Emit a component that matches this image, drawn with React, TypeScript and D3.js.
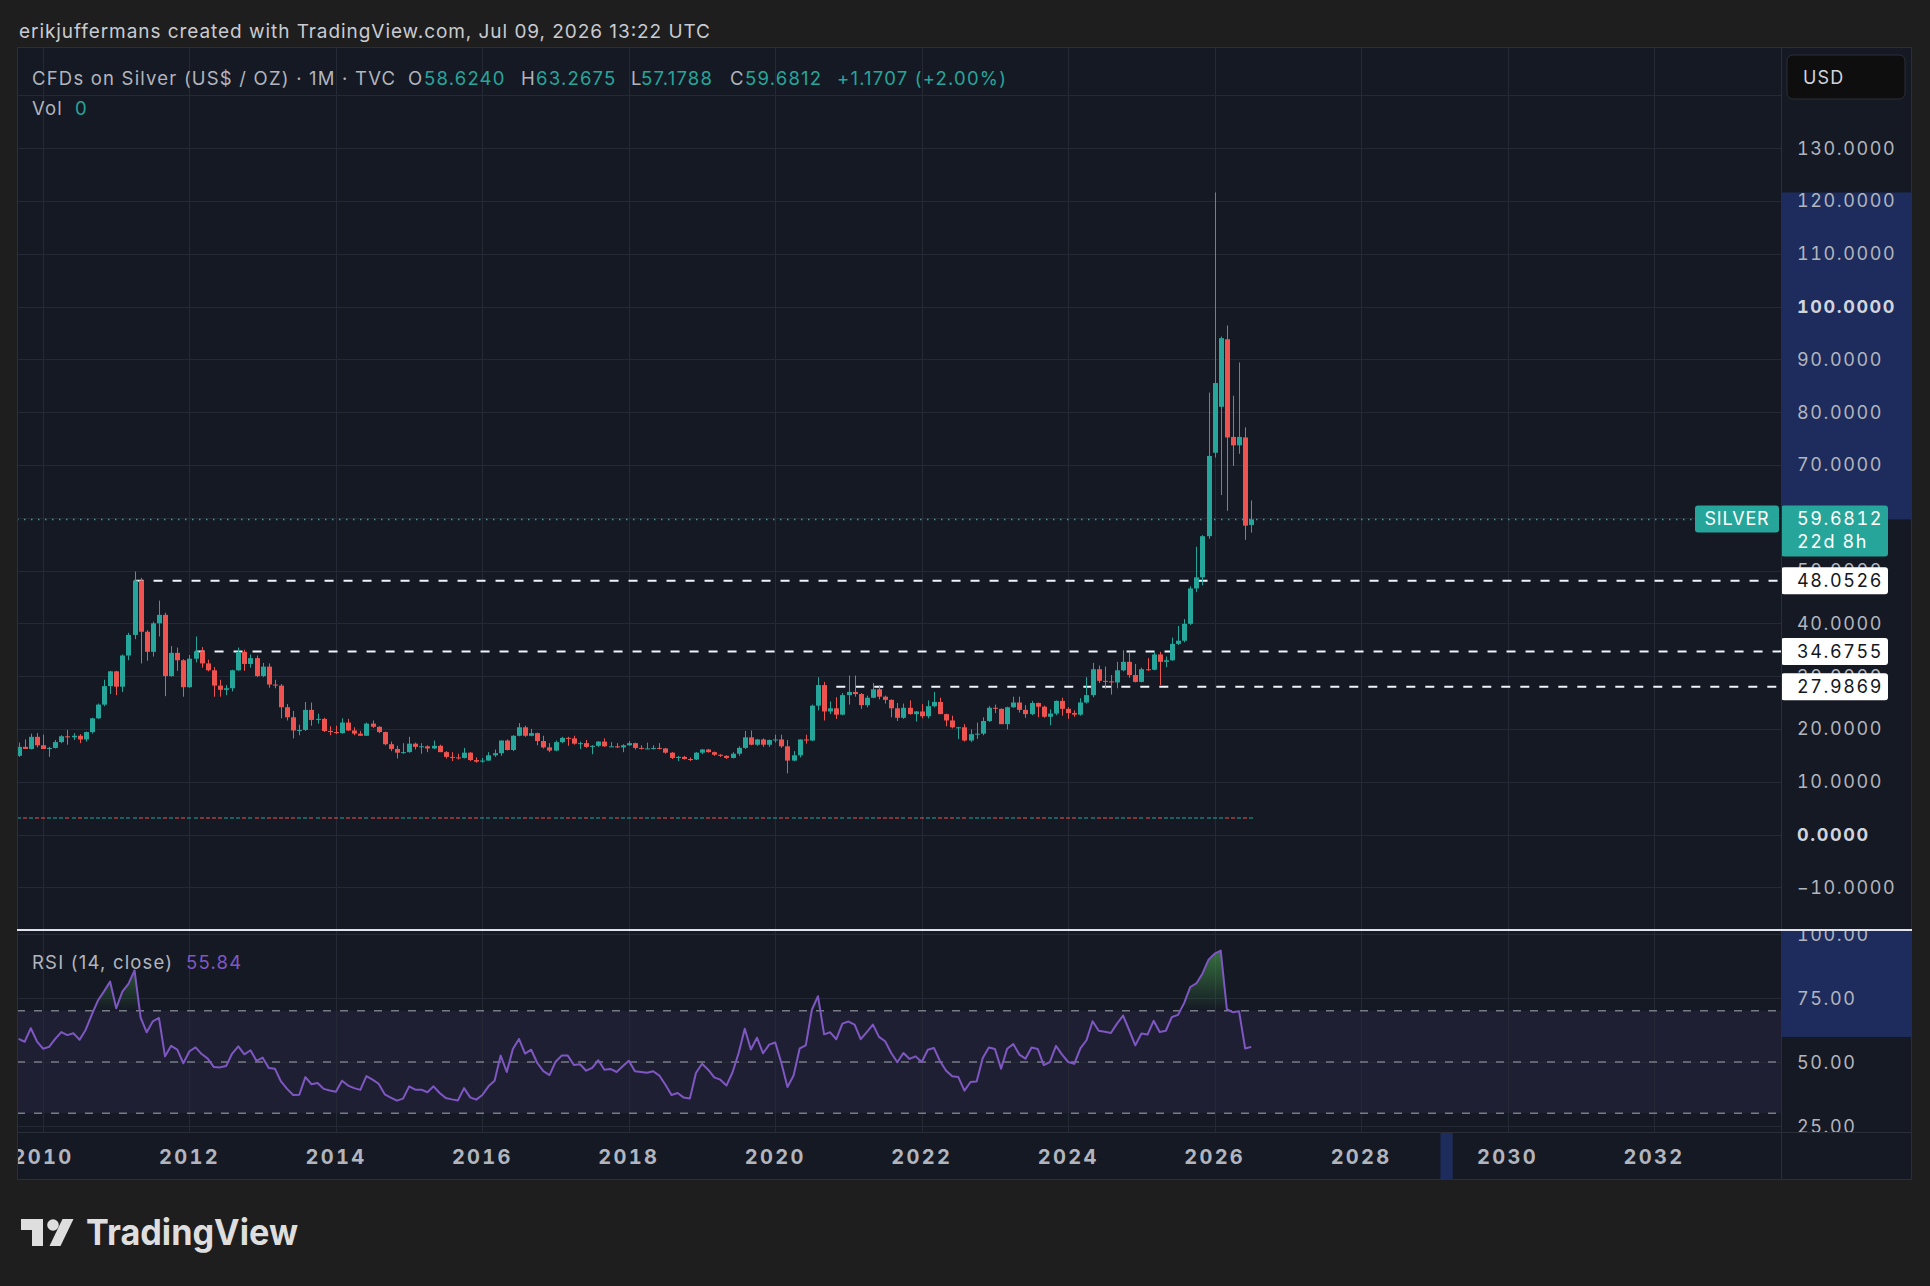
import React from "react";
import * as d3 from "d3";

// ---------------- DATA ----------------
const FIRST_MONTH = "2009-09";

const OPEN: number[] = [
  14.9, 16.6, 16.2, 18.5,
  16.9, 16.2, 16.4, 17.5, 18.6, 18.4, 18.7, 18.0, 19.4, 22.0, 24.6, 28.1,
  30.9, 28.0, 33.9, 37.8, 48.1, 38.4, 34.6, 40.0, 41.6, 30.0, 34.4, 33.0,
  27.9, 33.3, 34.7, 32.4, 31.1, 28.2, 27.4, 27.7, 31.1, 34.6, 32.3, 33.4,
  30.0, 31.8, 28.4, 28.2, 24.1, 22.2, 19.7, 19.8, 23.6, 21.7, 21.9, 19.6,
  19.4, 19.2, 21.2, 19.7, 19.1, 18.7, 21.0, 20.4, 19.4, 17.1, 16.2, 15.5,
  15.6, 17.2, 16.6, 16.7, 16.3, 16.8, 15.6, 14.7, 14.6, 14.5, 15.5, 14.1,
  13.8, 14.0, 15.0, 15.4, 17.8, 16.0, 18.7, 20.3, 18.7, 19.2, 17.7, 16.5,
  15.9, 17.5, 18.3, 18.2, 17.2, 17.3, 16.6, 16.8, 17.6, 16.7, 16.7, 16.5,
  16.9, 17.3, 16.4, 16.3, 16.3, 16.4, 16.3, 15.5, 14.5, 14.7, 14.3, 14.2,
  15.5, 16.1, 15.6, 15.1, 14.9, 14.5, 15.3, 16.4, 18.4, 17.0, 18.0, 17.0,
  17.9, 18.0, 16.7, 14.0, 15.0, 18.0, 17.8, 24.4, 28.3, 23.3, 23.9, 22.7,
  26.4, 27.0, 26.6, 24.5, 25.9, 27.5, 26.1, 25.5, 23.9, 22.1, 24.0, 22.8,
  23.3, 22.4, 24.3, 25.1, 22.8, 21.6, 20.3, 20.3, 17.8, 19.0, 19.1, 21.5,
  24.0, 23.8, 20.9, 24.1, 25.0, 23.6, 22.8, 24.9, 24.2, 22.3, 22.9, 25.3,
  23.8, 23.0, 22.7, 25.0, 26.4, 31.3, 29.1, 29.0, 28.8, 31.1, 32.7, 30.2,
  28.9, 31.3, 31.2, 34.1, 32.7, 33.0, 36.1, 36.7, 39.9, 46.6, 48.7, 56.5,
  72.3, 81.0, 93.8, 75.3, 73.7, 75.2, 58.624,
];

const HIGH: number[] = [
  17.4, 18.0, 19.1, 19.2,
  18.9, 16.6, 17.9, 18.8, 19.8, 19.2, 19.0, 19.5, 22.1, 24.8, 29.3, 31.0,
  31.0, 34.1, 38.2, 49.8, 48.6, 38.7, 40.3, 44.3, 42.0, 35.7, 35.4, 33.2,
  34.0, 37.5, 35.5, 33.1, 31.7, 29.3, 28.3, 31.2, 35.4, 35.0, 34.1, 33.9,
  32.5, 32.4, 29.3, 28.5, 24.7, 23.4, 20.8, 25.1, 25.0, 22.9, 22.1, 20.5,
  20.6, 22.0, 21.9, 20.3, 19.6, 21.2, 21.6, 20.5, 19.5, 17.6, 16.8, 17.3,
  18.5, 17.4, 17.3, 16.9, 17.8, 17.0, 15.8, 15.6, 15.3, 16.4, 15.6, 14.6,
  14.5, 15.6, 16.1, 17.8, 18.0, 18.8, 21.1, 20.6, 20.0, 19.3, 18.7, 17.3,
  17.8, 18.5, 18.5, 18.7, 17.6, 17.9, 16.9, 17.7, 18.2, 17.5, 17.3, 17.1,
  17.7, 17.4, 16.9, 17.4, 16.9, 17.3, 16.4, 15.6, 14.9, 14.9, 14.6, 15.6,
  16.2, 16.2, 15.7, 15.2, 15.0, 15.6, 16.7, 19.6, 19.7, 18.1, 18.2, 18.0,
  18.9, 18.9, 17.9, 15.8, 18.0, 18.9, 24.6, 29.8, 28.9, 25.2, 26.0, 26.8,
  30.1, 30.1, 26.8, 26.3, 28.7, 28.3, 26.3, 25.6, 24.9, 24.8, 25.4, 23.4,
  24.7, 25.4, 27.0, 25.9, 22.9, 22.5, 20.4, 20.9, 19.9, 21.2, 22.2, 24.3,
  24.6, 23.9, 24.2, 26.1, 26.1, 24.5, 25.3, 25.0, 24.4, 23.7, 25.4, 25.9,
  24.1, 23.5, 25.8, 29.8, 32.5, 32.0, 31.8, 30.2, 32.7, 34.9, 34.6, 32.3,
  31.6, 33.4, 34.6, 34.6, 33.7, 37.3, 39.5, 40.8, 47.0, 54.5, 56.7, 83.7,
  121.6, 94.3, 96.4, 83.1, 89.4, 77.1, 63.2675,
];

const LOW: number[] = [
  14.7, 16.2, 16.1, 16.5,
  16.2, 14.7, 16.3, 17.3, 17.0, 17.9, 17.3, 17.6, 19.1, 21.9, 24.3, 26.6,
  26.4, 27.0, 33.0, 37.0, 32.4, 32.9, 33.7, 37.5, 26.2, 29.9, 31.0, 26.1,
  27.8, 32.6, 31.6, 30.9, 26.1, 26.1, 26.4, 27.1, 31.0, 31.0, 31.6, 29.8,
  29.8, 27.8, 27.7, 22.0, 21.6, 18.2, 18.8, 19.6, 20.6, 21.0, 19.4, 18.8,
  19.0, 19.1, 19.6, 18.8, 18.7, 18.7, 20.2, 19.2, 16.9, 15.8, 14.4, 15.3,
  15.5, 16.1, 15.3, 15.6, 16.2, 15.6, 14.4, 13.9, 14.2, 14.4, 13.9, 13.6,
  13.6, 14.0, 14.7, 14.9, 15.9, 15.8, 18.6, 18.5, 18.6, 16.9, 16.3, 15.6,
  15.8, 17.3, 16.8, 17.0, 16.2, 16.4, 15.2, 16.6, 16.6, 16.6, 16.4, 15.6,
  16.8, 16.1, 16.1, 16.2, 16.1, 16.1, 15.3, 14.3, 13.9, 14.2, 13.9, 14.1,
  15.2, 15.5, 14.9, 14.7, 14.3, 14.4, 14.9, 16.2, 16.9, 16.8, 16.6, 16.6,
  17.4, 16.4, 11.6, 13.9, 14.6, 17.2, 17.7, 23.5, 21.6, 22.8, 21.9, 22.6,
  24.6, 26.1, 23.8, 24.1, 25.8, 25.6, 24.8, 22.2, 21.5, 21.9, 22.7, 21.4,
  22.0, 22.0, 24.1, 22.8, 20.5, 20.1, 18.1, 17.6, 17.5, 18.1, 18.8, 21.3,
  23.0, 20.9, 19.9, 24.0, 23.1, 22.1, 22.6, 22.2, 22.1, 20.7, 22.6, 22.5,
  21.9, 22.3, 22.5, 24.8, 26.0, 28.7, 27.6, 26.5, 27.7, 30.9, 29.7, 28.8,
  28.8, 31.0, 31.1, 28.3, 31.7, 32.9, 35.9, 36.4, 39.7, 45.9, 47.2, 56.0,
  71.4, 64.3, 61.3, 69.8, 72.1, 55.8, 57.1788,
];

const CLOSE: number[] = [
  16.6, 16.2, 18.5, 16.9,
  16.2, 16.4, 17.5, 18.6, 18.4, 18.7, 18.0, 19.4, 22.0, 24.6, 28.1, 30.9,
  28.0, 33.9, 37.8, 48.1, 38.4, 34.6, 40.0, 41.6, 30.0, 34.4, 33.0, 27.9,
  33.3, 34.7, 32.4, 31.1, 28.2, 27.4, 27.7, 31.1, 34.6, 32.3, 33.4, 30.0,
  31.8, 28.4, 28.2, 24.1, 22.2, 19.7, 19.8, 23.6, 21.7, 21.9, 19.6, 19.4,
  19.2, 21.2, 19.7, 19.1, 18.7, 21.0, 20.4, 19.4, 17.1, 16.2, 15.5, 15.6,
  17.2, 16.6, 16.7, 16.3, 16.8, 15.6, 14.7, 14.6, 14.5, 15.5, 14.1, 13.8,
  14.0, 15.0, 15.4, 17.8, 16.0, 18.7, 20.3, 18.7, 19.2, 17.7, 16.5, 15.9,
  17.5, 18.3, 18.2, 17.2, 17.3, 16.6, 16.8, 17.6, 16.7, 16.7, 16.5, 16.9,
  17.3, 16.4, 16.3, 16.3, 16.4, 16.3, 15.5, 14.5, 14.7, 14.3, 14.2, 15.5,
  16.1, 15.6, 15.1, 14.9, 14.5, 15.3, 16.4, 18.4, 17.0, 18.0, 17.0, 17.9,
  18.0, 16.7, 14.0, 15.0, 18.0, 17.8, 24.4, 28.3, 23.3, 23.9, 22.7, 26.4,
  27.0, 26.6, 24.5, 25.9, 27.5, 26.1, 25.5, 23.9, 22.1, 24.0, 22.8, 23.3,
  22.4, 24.3, 25.1, 22.8, 21.6, 20.3, 20.3, 17.8, 19.0, 19.1, 21.5, 24.0,
  23.8, 20.9, 24.1, 25.0, 23.6, 22.8, 24.9, 24.2, 22.3, 22.9, 25.3, 23.8,
  23.0, 22.7, 25.0, 26.4, 31.3, 29.1, 29.0, 28.8, 31.1, 32.7, 30.2, 28.9,
  31.3, 31.2, 34.1, 32.7, 33.0, 36.1, 36.7, 39.9, 46.6, 48.7, 56.5, 71.7,
  85.5, 94.0, 75.2, 73.7, 75.3, 58.5, 59.6812,
];

const RSI: number[] = [
  59.0, 57.9, 63.2, 58.1, 55.2, 55.9, 59.0, 61.7, 60.5, 61.2,
  58.7, 62.6, 68.5, 74.0, 77.6, 81.4, 71.0, 77.5, 80.5, 85.8,
  67.3, 61.6, 65.9, 67.2, 52.2, 56.3, 54.8, 49.5, 54.2, 55.7,
  53.1, 51.3, 48.0, 47.9, 48.4, 53.3, 56.1, 53.0, 54.6, 50.4,
  51.7, 47.7, 47.4, 42.4, 39.5, 37.1, 37.2, 44.1, 41.3, 41.8,
  39.5, 38.9, 38.4, 42.7, 40.8, 39.8, 39.1, 44.5, 43.1, 41.5,
  37.4, 36.1, 34.9, 35.7, 40.5, 39.2, 39.2, 38.2,
  40.5, 37.9, 35.9, 35.4, 35.0, 39.8, 36.2, 35.3, 37.1, 40.5,
  42.7, 52.5, 46.1, 55.1, 59.0, 53.3, 54.8, 49.6, 46.4, 44.9,
  50.1, 52.5, 52.5, 48.8, 49.1, 46.6, 47.7, 50.7, 47.0, 47.3,
  46.1, 48.3, 50.5, 46.4, 46.1, 45.8, 46.4, 44.7, 41.1, 37.1,
  37.9, 36.1, 35.7, 45.7, 49.3, 47.0, 44.0, 43.1, 40.8, 46.0,
  53.5, 63.0, 54.9, 59.5, 53.4, 56.8, 57.6, 49.6, 40.2, 44.7,
  55.3, 56.5, 70.4, 75.7, 60.8, 61.6, 58.9,
  65.0, 65.8, 64.6, 58.9, 61.7, 64.6, 59.8, 58.1, 53.5, 49.9,
  53.5, 51.2, 52.2, 50.0, 54.8, 55.5, 50.3, 46.6, 44.4, 44.1,
  38.8, 42.2, 42.4, 51.6, 55.7, 55.1, 47.4, 55.2, 57.0, 52.9,
  51.3, 55.7, 55.1, 48.8, 50.0, 56.3, 52.9, 50.0, 49.3, 55.3,
  58.5, 65.9, 62.2, 61.8, 61.3, 65.0, 68.1, 62.4, 56.5, 61.1,
  60.7, 66.1, 61.7, 62.2, 67.6, 68.4, 73.0, 79.3, 80.7, 84.5,
  90.0, 92.3, 93.5, 70.7, 69.4, 69.8, 55.3, 55.9,
];

const VOLUME: number[] = OPEN.map(() => 0); // legend reads "Vol 0"

const YEAR_TICKS = [2010, 2012, 2014, 2016, 2018, 2020, 2022, 2024, 2026, 2028, 2030, 2032];
const PRICE_TICKS = [-10, 0, 10, 20, 30, 40, 50, 60, 70, 80, 90, 100, 110, 120, 130, 140];
const BOLD_PRICE_TICKS = [0, 100];
const RSI_TICKS = [25, 50, 75, 100];
const RSI_BANDS = [70, 50, 30];
const LEVEL_VALUES = [48.0526, 34.6755, 27.9869];
const LEVEL_STARTS = ["2011-04", "2012-02", "2020-11"];

const HEADER = "erikjuffermans created with TradingView.com, Jul 09, 2026 13:22 UTC";
const SYMBOL_TITLE = "CFDs on Silver (US$ / OZ) · 1M · TVC";
const OHLC_LABELS = ["O", "H", "L", "C"];
const OHLC_VALUES = ["58.6240", "63.2675", "57.1788", "59.6812"];
const CHANGE_TEXT = "+1.1707 (+2.00%)";
const SYMBOL_TAG = "SILVER";
const COUNTDOWN = "22d 8h";
const RSI_TITLE = "RSI (14, close)";
const RSI_LAST = 55.84;
const RSI_HIGHLIGHT_LOW = 59.8;
const TIME_HIGHLIGHT = ["2029-02", "2029-04"];

// ---------------- LAYOUT ----------------
const W = 1930;
const H = 1286;
const PANE_L = 17;
const PANE_R = 1781;
const AXIS_R = 1912;
const MAIN_T = 47;
const MAIN_B = 929;
const SEP_Y = 930;
const RSI_T = 931;
const RSI_B = 1132;
const TIME_B = 1180;
const VOL_BASE = 818;

const UP = "#26a69a";
const DOWN = "#ef5350";
const BG = "#1e1e1e";
const PANE_BG = "#151924";
const GRID = "#252935";
const BORDER = "#2a2e39";
const TEXT = "#b2b5be";
const HILITE = "#1d2c5c";
const RSI_COLOR = "#7e57c2";
const FONT = "Inter, 'Noto Sans', sans-serif";
const AXIS_LS = 1.6;
const LEGEND_LS = 1.2;
const TNUM = { fontVariantNumeric: "tabular-nums" } as React.CSSProperties;

const monthIndex = (s: string) => {
  const [y, m] = s.split("-").map(Number);
  return (y - 2010) * 12 + (m - 1);
};

const x = d3.scaleLinear().domain([0, 264]).range([43, 1654]);
const y = d3.scaleLinear().domain([0, 100]).range([834.5, 306.5]);
const yr = d3.scaleLinear().domain([25, 100]).range([1126, 934]);
const yv = d3.scaleLinear().domain([0, 1]).range([VOL_BASE, 700]);

const START = monthIndex(FIRST_MONTH);
const fmtPrice = d3.format(".4f");
const fmtRsi = d3.format(".2f");

export default function App() {
  const mx = (k: number) => Math.round(x(START + k));
  const lastClose = CLOSE[CLOSE.length - 1];
  const maxHigh = d3.max(HIGH) as number;
  const yClose = y(lastClose);

  const rsiLine = d3
    .line<number>()
    .x((_, k) => x(START + k))
    .y((v) => yr(v))(RSI) as string;
  const rsiArea = d3
    .area<number>()
    .x((_, k) => x(START + k))
    .y0(yr(70))
    .y1((v) => yr(v))(RSI) as string;

  const legendY = 78;
  const ohlcX = [408, 521, 631, 730];
  const ohlcValX = [424, 536, 641, 745];

  // tick labels fully covered by the current-price label are not drawn
  const visiblePriceTicks = PRICE_TICKS.filter(
    (t) => t < 140 && !(y(t) > yClose - 10 && y(t) < yClose + 33)
  );

  return (
    <svg
      width={W}
      height={H}
      style={{ position: "absolute", left: 0, top: 0, fontFamily: FONT }}
    >
      <defs>
        <clipPath id="mainClip">
          <rect x={PANE_L} y={MAIN_T} width={PANE_R - PANE_L} height={MAIN_B - MAIN_T} />
        </clipPath>
        <clipPath id="rsiClip">
          <rect x={PANE_L} y={RSI_T} width={PANE_R - PANE_L} height={RSI_B - RSI_T} />
        </clipPath>
        <clipPath id="rsiAboveClip">
          <rect x={PANE_L} y={RSI_T} width={PANE_R - PANE_L} height={yr(70) - RSI_T} />
        </clipPath>
        <clipPath id="rsiAxisClip">
          <rect x={PANE_R} y={RSI_T} width={AXIS_R - PANE_R} height={RSI_B - RSI_T} />
        </clipPath>
        <clipPath id="timeClip">
          <rect x={PANE_L} y={RSI_B} width={PANE_R - PANE_L} height={TIME_B - RSI_B} />
        </clipPath>
        <linearGradient id="obGrad" gradientUnits="userSpaceOnUse" x1={0} y1={yr(100)} x2={0} y2={yr(70)}>
          <stop offset="0%" stopColor="#4caf50" stopOpacity={0.75} />
          <stop offset="100%" stopColor="#4caf50" stopOpacity={0} />
        </linearGradient>
      </defs>

      {/* frame */}
      <rect x={0} y={0} width={W} height={H} fill={BG} />
      <text x={19} y={37.5} fontSize={19} fill="#c9cbd1" textLength={691} lengthAdjust="spacing">
        {HEADER}
      </text>

      <rect x={PANE_L} y={MAIN_T} width={AXIS_R - PANE_L} height={TIME_B - MAIN_T} fill={PANE_BG} />

      {/* ---------- MAIN PANE ---------- */}
      <g clipPath="url(#mainClip)">
        {PRICE_TICKS.map((t) => (
          <line key={t} x1={PANE_L} x2={PANE_R} y1={Math.round(y(t)) + 0.5} y2={Math.round(y(t)) + 0.5} stroke={GRID} />
        ))}
        {YEAR_TICKS.map((t) => {
          const gx = Math.round(x(monthIndex(`${t}-01`))) + 0.5;
          return <line key={t} x1={gx} x2={gx} y1={MAIN_T} y2={MAIN_B} stroke={GRID} />;
        })}

        {/* volume overlay (all zero) */}
        {VOLUME.map((v, k) => (
          <rect
            key={k}
            x={mx(k) - 2}
            y={yv(v) - 1}
            width={4}
            height={2}
            fill={CLOSE[k] >= OPEN[k] ? UP : DOWN}
            opacity={0.5}
          />
        ))}

        {/* current price dotted line */}
        <line
          x1={PANE_L}
          x2={1695}
          y1={yClose}
          y2={yClose}
          stroke={UP}
          strokeWidth={1.5}
          strokeDasharray="1.5 5.5"
        />

        {/* horizontal levels */}
        {LEVEL_VALUES.map((v, k) => (
          <line
            key={v}
            x1={x(monthIndex(LEVEL_STARTS[k]))}
            x2={PANE_R}
            y1={y(v)}
            y2={y(v)}
            stroke="#f0f3fa"
            strokeWidth={2}
            strokeDasharray="9 10"
          />
        ))}

        {/* candles */}
        {OPEN.map((o, k) => {
          const c = CLOSE[k];
          const col = c >= o ? UP : DOWN;
          const cx = mx(k);
          const yT = y(Math.max(o, c));
          const yB = y(Math.min(o, c));
          return (
            <g key={k}>
              <rect x={cx} y={y(HIGH[k])} width={1} height={y(LOW[k]) - y(HIGH[k])} fill={col} />
              <rect x={cx - 2} y={yT} width={5} height={Math.max(1, yB - yT)} fill={col} />
            </g>
          );
        })}

        {/* legend */}
        <text y={legendY} fontSize={18.5} letterSpacing={LEGEND_LS} dominantBaseline="central">
          <tspan x={32} fill={TEXT}>{SYMBOL_TITLE}</tspan>
          {OHLC_LABELS.map((l, k) => (
            <React.Fragment key={l}>
              <tspan x={ohlcX[k]} fill={TEXT}>{l}</tspan>
              <tspan x={ohlcValX[k]} fill={UP}>{OHLC_VALUES[k]}</tspan>
            </React.Fragment>
          ))}
          <tspan x={837} fill={UP}>{CHANGE_TEXT}</tspan>
        </text>
        <text y={108} fontSize={18.5} letterSpacing={LEGEND_LS} dominantBaseline="central">
          <tspan x={32} fill={TEXT}>Vol</tspan>
          <tspan x={75} fill={UP}>{VOLUME[VOLUME.length - 1]}</tspan>
        </text>
      </g>

      {/* ---------- PRICE AXIS ---------- */}
      <rect x={PANE_R} y={y(maxHigh)} width={AXIS_R - PANE_R} height={yClose - y(maxHigh)} fill={HILITE} />
      {visiblePriceTicks.map((t) => (
        <text
          key={t}
          x={1797}
          y={y(t)}
          fontSize={18}
          letterSpacing={AXIS_LS}
          style={TNUM}
          dominantBaseline="central"
          fill={BOLD_PRICE_TICKS.includes(t) ? "#d1d4dc" : TEXT}
          fontWeight={BOLD_PRICE_TICKS.includes(t) ? 700 : 400}
        >
          {fmtPrice(t)}
        </text>
      ))}

      {/* level labels */}
      {LEVEL_VALUES.map((v) => (
        <g key={v}>
          <rect x={PANE_R} y={y(v) - 13.5} width={107} height={27} rx={3} fill="#ffffff" />
          <text x={1797} y={y(v)} fontSize={18} letterSpacing={AXIS_LS} style={TNUM} dominantBaseline="central" fill="#131722">
            {fmtPrice(v)}
          </text>
        </g>
      ))}

      {/* current price labels */}
      <rect x={1695} y={yClose - 14} width={84} height={27} rx={3} fill={UP} />
      <text x={1737} y={yClose - 0.5} fontSize={18} letterSpacing={0.8} textAnchor="middle" dominantBaseline="central" fill="#ffffff">
        {SYMBOL_TAG}
      </text>
      <rect x={PANE_R} y={yClose - 14} width={107} height={51} rx={3} fill={UP} />
      <text x={1797} y={yClose - 0.5} fontSize={18} letterSpacing={AXIS_LS} style={TNUM} dominantBaseline="central" fill="#ffffff">
        {fmtPrice(lastClose)}
      </text>
      <text x={1797} y={yClose + 22} fontSize={18} letterSpacing={AXIS_LS} style={TNUM} dominantBaseline="central" fill="#ffffff">
        {COUNTDOWN}
      </text>

      {/* USD box */}
      <rect x={1787} y={55} width={118} height={44} rx={6} fill="#0e0e0e" stroke={BORDER} />
      <text x={1803} y={77} fontSize={18} letterSpacing={1.2} dominantBaseline="central" fill="#d1d4dc">
        USD
      </text>

      {/* ---------- RSI PANE ---------- */}
      <rect
        x={PANE_L}
        y={yr(70)}
        width={PANE_R - PANE_L}
        height={yr(30) - yr(70)}
        fill="rgba(126,87,194,0.1)"
      />
      <g clipPath="url(#rsiClip)">
        {RSI_TICKS.map((t) => (
          <line key={t} x1={PANE_L} x2={PANE_R} y1={Math.round(yr(t)) + 0.5} y2={Math.round(yr(t)) + 0.5} stroke={GRID} />
        ))}
        {YEAR_TICKS.map((t) => {
          const gx = Math.round(x(monthIndex(`${t}-01`))) + 0.5;
          return <line key={t} x1={gx} x2={gx} y1={RSI_T} y2={RSI_B} stroke={GRID} />;
        })}
        {RSI_BANDS.map((b) => (
          <line
            key={b}
            x1={PANE_L}
            x2={PANE_R}
            y1={yr(b)}
            y2={yr(b)}
            stroke="#787b86"
            strokeWidth={1.5}
            strokeDasharray="8 9"
          />
        ))}
        <path d={rsiArea} fill="url(#obGrad)" clipPath="url(#rsiAboveClip)" />
        <path d={rsiLine} fill="none" stroke={RSI_COLOR} strokeWidth={2} strokeLinejoin="round" />
        <text y={961.5} fontSize={18.5} letterSpacing={LEGEND_LS} dominantBaseline="central">
          <tspan x={32} fill={TEXT}>{RSI_TITLE}</tspan>
          <tspan x={186} fill={RSI_COLOR}>{fmtRsi(RSI_LAST)}</tspan>
        </text>
      </g>

      {/* RSI axis */}
      <rect x={PANE_R} y={RSI_T} width={AXIS_R - PANE_R} height={yr(RSI_HIGHLIGHT_LOW) - RSI_T} fill={HILITE} />
      <g clipPath="url(#rsiAxisClip)">
        {RSI_TICKS.map((t) => (
          <text key={t} x={1797} y={yr(t)} fontSize={18} letterSpacing={AXIS_LS} style={TNUM} dominantBaseline="central" fill={TEXT}>
            {fmtRsi(t)}
          </text>
        ))}
      </g>

      {/* ---------- TIME AXIS ---------- */}
      <rect
        x={x(monthIndex(TIME_HIGHLIGHT[0]))}
        y={RSI_B}
        width={x(monthIndex(TIME_HIGHLIGHT[1])) - x(monthIndex(TIME_HIGHLIGHT[0]))}
        height={TIME_B - RSI_B}
        fill={HILITE}
      />
      <g clipPath="url(#timeClip)">
        {YEAR_TICKS.map((t) => (
          <text
            key={t}
            x={x(monthIndex(`${t}-01`))}
            y={1157}
            fontSize={20}
            fontWeight={700}
            letterSpacing={2.3}
            style={TNUM}
            textAnchor="middle"
            dominantBaseline="central"
            fill={TEXT}
          >
            {t}
          </text>
        ))}
      </g>

      {/* borders & separator */}
      <line x1={PANE_R + 0.5} x2={PANE_R + 0.5} y1={MAIN_T} y2={TIME_B} stroke={BORDER} />
      <line x1={PANE_L} x2={AXIS_R} y1={RSI_B + 0.5} y2={RSI_B + 0.5} stroke={BORDER} />
      <rect x={PANE_L + 0.5} y={MAIN_T + 0.5} width={AXIS_R - PANE_L - 1} height={TIME_B - MAIN_T - 1} fill="none" stroke={BORDER} />
      <line x1={PANE_L} x2={AXIS_R} y1={SEP_Y} y2={SEP_Y} stroke="#e0e3eb" strokeWidth={2} />

      {/* ---------- LOGO ---------- */}
      <g fill="#dedede">
        <path d="M21 1219 H43 V1246 H32 V1230 H21 Z" />
        <circle cx={53} cy={1225} r={5.8} />
        <path d="M62.5 1219 H73.5 L60.5 1246 H49.5 Z" />
        <text x={86} y={1245} fontSize={36} fontWeight={700} textLength={212} lengthAdjust="spacingAndGlyphs">
          TradingView
        </text>
      </g>
    </svg>
  );
}
